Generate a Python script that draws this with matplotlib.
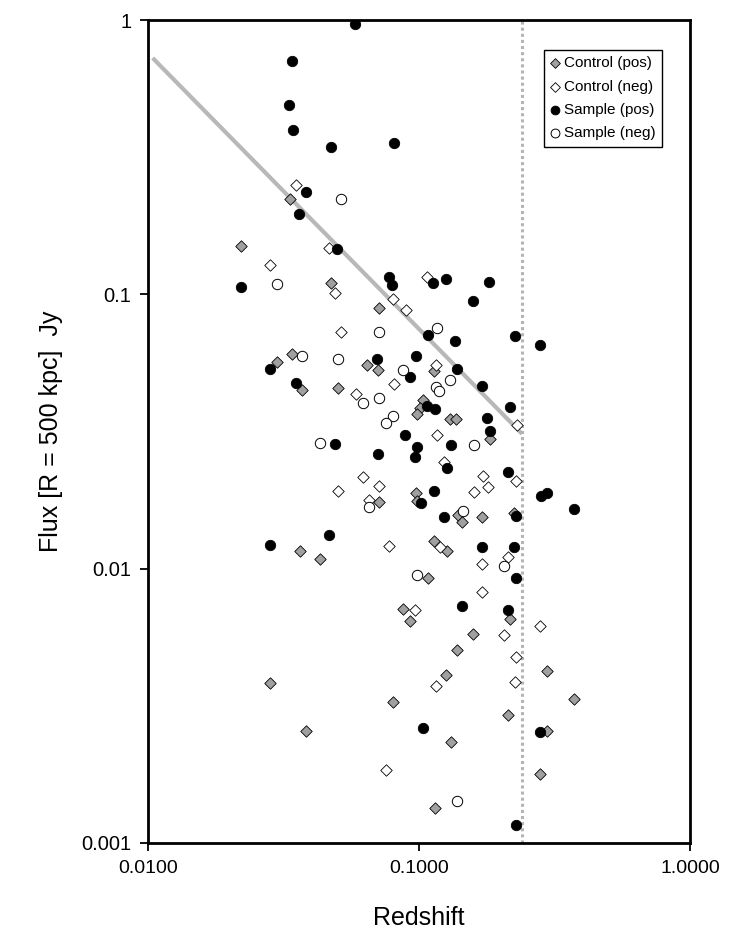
import numpy as np
import matplotlib
matplotlib.use('Agg')
import matplotlib.pyplot as plt

plt.rcParams['font.family'] = ['Liberation Sans', 'DejaVu Sans']

# Control (pos) - grey diamonds
ctrl_pos_z = [0.0220, 0.0333, 0.0475, 0.0714, 0.0341, 0.0300, 0.0371, 0.0504, 0.0643, 0.0704,
              0.1139, 0.1035, 0.1009, 0.0983, 0.1302, 0.1366, 0.1824, 0.0977, 0.0980, 0.0710,
              0.1393, 0.1445, 0.1713, 0.2242, 0.0365, 0.0432, 0.1133, 0.1272, 0.1082, 0.0875,
              0.0927, 0.2173, 0.1586, 0.1380, 0.1258, 0.2967, 0.0282, 0.3742, 0.0804, 0.2136,
              0.0384, 0.2960, 0.1316, 0.2804, 0.1148]
ctrl_pos_f = [0.1504, 0.2232, 0.1097, 0.0891, 0.0606, 0.0567, 0.0447, 0.0454, 0.0551, 0.0530,
              0.0524, 0.0412, 0.0384, 0.0365, 0.0350, 0.0350, 0.0298, 0.0189, 0.0177, 0.01745,
              0.01564, 0.01475, 0.01538, 0.01595, 0.0116, 0.0108, 0.0126, 0.0116, 0.00922, 0.0071,
              0.00642, 0.00653, 0.00578, 0.00505, 0.00408, 0.00422, 0.00384, 0.00336, 0.00326, 0.00294,
              0.00257, 0.00256, 0.00233, 0.00178, 0.001337]

# Control (neg) - open diamonds
ctrl_neg_z = [0.0352, 0.0464, 0.0282, 0.1073, 0.0491, 0.0804, 0.0895, 0.0517, 0.1158, 0.0811,
              0.0584, 0.2299, 0.1165, 0.1240, 0.1718, 0.2286, 0.0623, 0.0714, 0.0504, 0.1793,
              0.1600, 0.0652, 0.0777, 0.1193, 0.2136, 0.1713, 0.1713, 0.0969, 0.2804, 0.2060,
              0.2286, 0.1158, 0.2266, 0.0757]
ctrl_neg_f = [0.2503, 0.1471, 0.1282, 0.1159, 0.1008, 0.0959, 0.0877, 0.0729, 0.0553, 0.0470,
              0.0432, 0.0335, 0.0306, 0.0245, 0.02176, 0.0208, 0.0215, 0.0200, 0.0192, 0.01988,
              0.0190, 0.0178, 0.01212, 0.01202, 0.01102, 0.0104, 0.00823, 0.00705, 0.00616, 0.00571,
              0.00477, 0.00372, 0.00385, 0.00184]

# Sample (pos) - black circles
samp_pos_z = [0.0579, 0.0339, 0.0331, 0.0342, 0.0475, 0.0807, 0.0382, 0.0362, 0.0499, 0.0220,
              0.0773, 0.0795, 0.1124, 0.1255, 0.1813, 0.1580, 0.1077, 0.1354, 0.2254, 0.2796,
              0.0698, 0.0975, 0.0924, 0.1385, 0.0282, 0.0351, 0.1703, 0.1068, 0.1148, 0.2162,
              0.1778, 0.1828, 0.0888, 0.0489, 0.0981, 0.1309, 0.0966, 0.0704, 0.1265, 0.2131,
              0.1136, 0.1015, 0.2813, 0.2960, 0.3733, 0.1234, 0.2280, 0.0466, 0.0282, 0.1703,
              0.2236, 0.2274, 0.1441, 0.2131, 0.1032, 0.2796, 0.2274]
samp_pos_f = [0.967, 0.711, 0.490, 0.397, 0.345, 0.356, 0.236, 0.197, 0.146, 0.1063,
              0.1153, 0.1078, 0.1102, 0.1134, 0.1109, 0.0945, 0.0711, 0.0677, 0.0706, 0.0654,
              0.0581, 0.0596, 0.0500, 0.0533, 0.0533, 0.0476, 0.0464, 0.0393, 0.0382, 0.0389,
              0.0355, 0.0318, 0.0308, 0.0285, 0.0278, 0.0282, 0.0256, 0.0262, 0.0233, 0.0226,
              0.0192, 0.0174, 0.0184, 0.0188, 0.01654, 0.01542, 0.01555, 0.01326, 0.01219, 0.01202,
              0.01202, 0.00926, 0.00731, 0.00706, 0.00263, 0.00254, 0.001165]

# Sample (neg) - open circles
samp_neg_z = [0.0516, 0.0298, 0.0370, 0.0502, 0.0712, 0.1162, 0.0873, 0.1298, 0.1152, 0.1185,
              0.0620, 0.0712, 0.0800, 0.0755, 0.0431, 0.1591, 0.0654, 0.1454, 0.2054, 0.0983,
              0.1377]
samp_neg_f = [0.2226, 0.1090, 0.0596, 0.0581, 0.0729, 0.0753, 0.0531, 0.0488, 0.0460, 0.0445,
              0.0403, 0.0420, 0.0359, 0.0340, 0.0287, 0.0283, 0.0168, 0.01626, 0.01022, 0.00948,
              0.001418]

# limit line and redshift cut
limit_z = [0.0104, 0.24]
limit_f = [0.727, 0.031]
z_cut = 0.24

fig = plt.figure(figsize=(7.48, 9.35), dpi=100)
ax = fig.add_axes([0.1979, 0.0984, 0.7246, 0.8802])

ax.plot(limit_z, limit_f, color='#b8b8b8', lw=3, zorder=2, solid_capstyle='butt')
ax.axvline(z_cut, color='#b4b4b4', lw=2.2, linestyle=(0, (1, 1)), zorder=2)

ax.scatter(ctrl_pos_z, ctrl_pos_f, marker='D', s=34, facecolor='#a0a0a0', edgecolor='black',
           linewidths=0.6, label='Control (pos)', zorder=3)
ax.scatter(ctrl_neg_z, ctrl_neg_f, marker='D', s=34, facecolor='white', edgecolor='black',
           linewidths=0.6, label='Control (neg)', zorder=3)
ax.scatter(samp_pos_z, samp_pos_f, marker='o', s=56, facecolor='black', edgecolor='black',
           linewidths=0.6, label='Sample (pos)', zorder=4)
ax.scatter(samp_neg_z, samp_neg_f, marker='o', s=56, facecolor='white', edgecolor='black',
           linewidths=0.7, label='Sample (neg)', zorder=4)

ax.set_xscale('log')
ax.set_yscale('log')
ax.set_xlim(0.01, 1.0)
ax.set_ylim(0.001, 1.0)
ax.set_xticks([0.01, 0.1, 1.0])
ax.set_xticklabels(['0.0100', '0.1000', '1.0000'])
ax.set_yticks([0.001, 0.01, 0.1, 1.0])
ax.set_yticklabels(['0.001', '0.01', '0.1', '1'])
ax.minorticks_off()
ax.tick_params(direction='out', length=6, width=1.3, labelsize=14, pad=6)
ax.tick_params(axis='y', labelsize=14.5)

for sp in ax.spines.values():
    sp.set_linewidth(2)

ax.set_xlabel('Redshift', fontsize=18, labelpad=21)
ax.set_ylabel('Flux [R = 500 kpc]  Jy', fontsize=18, labelpad=13)

leg = ax.legend(loc='upper left', bbox_to_anchor=(0.7306, 0.9636), fontsize=11,
                frameon=True, fancybox=False, edgecolor='black', framealpha=1,
                handlelength=0.6, handletextpad=0.3, borderpad=0.4, labelspacing=0.62,
                borderaxespad=0, markerscale=0.85)
leg.get_frame().set_linewidth(1)

fig.savefig('out.png', dpi=100)
